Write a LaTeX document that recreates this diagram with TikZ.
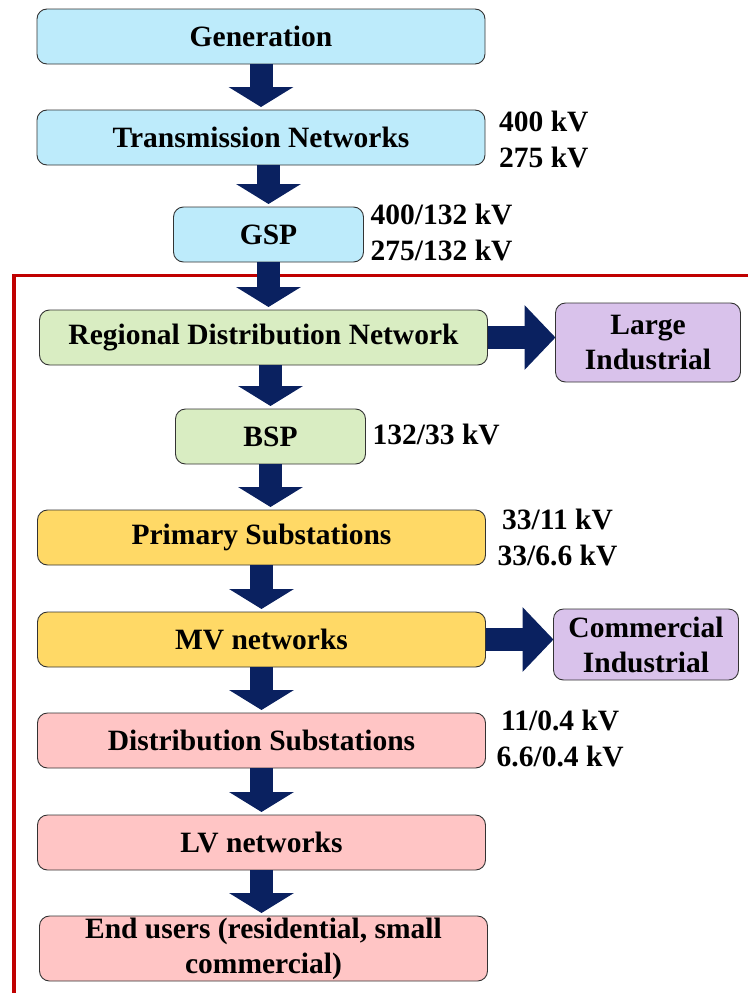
\documentclass[tikz,border=0pt]{standalone}
\usepackage{fontspec}
\setmainfont{Liberation Serif}
\usepackage{xcolor}
\usetikzlibrary{arrows.meta,positioning,calc}
\definecolor{genblue}{HTML}{BDEBFB}
\definecolor{distgreen}{HTML}{D9EDC2}
\definecolor{mvyellow}{HTML}{FFD966}
\definecolor{lvpink}{HTML}{FFC5C5}
\definecolor{custpurple}{HTML}{D9C2EB}
\definecolor{flownavy}{HTML}{0A2160}
\definecolor{dnored}{HTML}{C00000}

\begin{document}
\begin{tikzpicture}[x=1pt,y=1pt,
  node distance=46pt and 10pt,
  box/.style={draw=black!80,line width=0.9pt,outer sep=0pt,rounded corners=10pt,minimum height=55pt,minimum width=448pt,inner sep=1pt,align=center,font=\bfseries\fontsize{29.5}{35}\selectfont},
  small/.style={box,minimum width=190pt},
  cust/.style={box,minimum width=185pt,fill=custpurple},
  volt/.style={inner sep=2pt,align=center,font=\bfseries\fontsize{29.5}{36}\selectfont},
  flow/.style={draw=flownavy,line width=23pt,-{Triangle[length=20pt,width=64pt]},shorten >=3pt},
  feed/.style={draw=flownavy,line width=23pt,-{Triangle[length=31pt,width=63pt]}}]
  \useasboundingbox (0,0) rectangle (748,-993);
  \node[box,fill=genblue] (gen) at (261,-36.5) {Generation};
  \node[box,fill=genblue,below=of gen] (trans) {Transmission Networks};
  \node[small,fill=genblue,below=42pt of trans,xshift=7.5pt] (gsp) {GSP};
  \node[box,fill=distgreen,below=48pt of gsp,xshift=-5pt] (rdn) {Regional Distribution Network};
  \node[small,fill=distgreen,below=44pt of rdn,xshift=7pt] (bsp) {BSP};
  \node[box,fill=mvyellow,below=of bsp,xshift=-9pt] (prim) {Primary Substations};
  \node[box,fill=mvyellow,below=47pt of prim] (mv) {MV networks};
  \node[box,fill=lvpink,below=of mv] (dist) {Distribution Substations};
  \node[box,fill=lvpink,below=47pt of dist] (lv) {LV networks};
  \node[box,fill=lvpink,below=of lv,xshift=2pt,minimum height=65pt] (end) {End users (residential, small\\commercial)};
  \node[cust,right=68pt of rdn,yshift=-5pt,minimum height=79pt] (large) {Large\\Industrial};
  \node[cust,right=68pt of mv,yshift=-5pt,minimum height=71pt] (comm) {Commercial\\Industrial};
  % voltage levels
  \node[volt,right=12pt of trans,yshift=-2pt] (vtrans) {400 kV\\275 kV};
  \node[volt,right=5pt of gsp,yshift=2pt] (vgsp) {400/132 kV\\275/132 kV};
  \node[volt,right=5pt of bsp,yshift=2pt] (vbsp) {132/33 kV};
  \node[volt,right=10pt of prim] (vprim) {33/11 kV\\33/6.6 kV};
  \node[volt,right=9pt of dist,yshift=2pt] (vdist) {11/0.4 kV\\6.6/0.4 kV};
  % DNO boundary
  \draw[dnored,line width=3.5pt] (748,-275.5) -| (14,-993);
  \draw[flow] (gen) -- (trans);
  \draw[flow] (trans.south -| gsp) -- (gsp);
  \draw[flow] (gsp) -- (gsp |- rdn.north);
  \draw[flow] (rdn.south -| bsp) -- (bsp);
  \draw[flow] (bsp) -- (bsp |- prim.north);
  \draw[flow] (prim) -- (mv);
  \draw[flow] (mv) -- (dist);
  \draw[flow] (dist) -- (lv);
  \draw[flow] (lv) -- (lv |- end.north);
  \draw[feed] (rdn) -- (rdn.east -| large.west);
  \draw[feed] (mv) -- (mv.east -| comm.west);
\end{tikzpicture}
\end{document}
